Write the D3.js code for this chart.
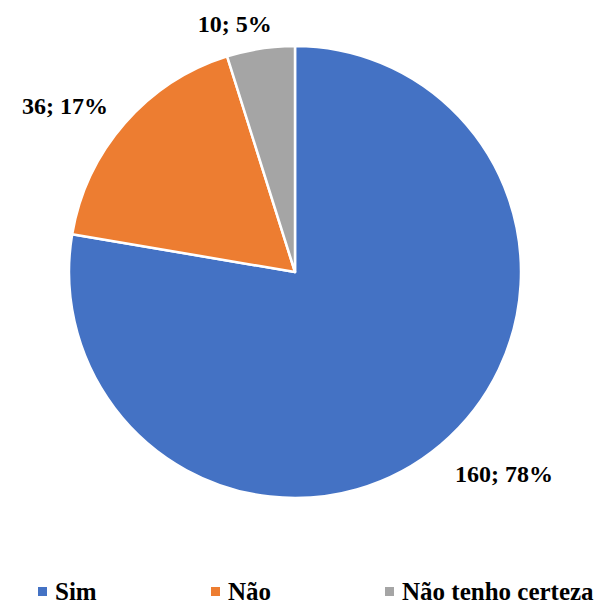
<!DOCTYPE html>
<html><head><meta charset="utf-8">
<script src="https://cdn.jsdelivr.net/npm/d3@7"></script>
</head><body style="margin:0">
<svg id="c" width="598" height="605" style="display:block;background:#fff"></svg>
<script>
const categories = ["Sim", "Não", "Não tenho certeza"];
const values = [160, 36, 10];
const percents = ["78%", "17%", "5%"];
const colors = ["#4472C4", "#ED7D31", "#A5A5A5"];

const cx = 295, cy = 272, r = 226;
const FONT = "Liberation Serif";
const svg = d3.select("#c");
const data = categories.map((c, i) => ({c, v: values[i], p: percents[i], col: colors[i]}));
const pie = d3.pie().value(d => d.v).sort(null);
const arcs = pie(data);
const arc = d3.arc().innerRadius(0).outerRadius(r);
const g = svg.append("g").attr("transform", `translate(${cx},${cy})`);
g.selectAll("path").data(arcs).join("path")
  .attr("d", arc).attr("fill", d => d.data.col)
  .attr("stroke", "#fff").attr("stroke-width", 2.5).attr("stroke-linejoin", "round");

const lx = [38, 211, 385];
const leg = svg.append("g");
data.forEach((d, i) => {
  leg.append("rect").attr("x", lx[i]).attr("y", 587).attr("width", 9).attr("height", 9).attr("fill", d.col);
  leg.append("text").attr("x", lx[i] + 17).attr("y", 600).text(d.c)
    .attr("font-family", FONT).attr("font-weight", "bold")
    .attr("font-size", 25).attr("fill", "#000");
});

const labels = arcs.map(a => g.append("text").text(`${a.data.v}; ${a.data.p}`)
    .attr("font-family", FONT).attr("font-weight", "bold")
    .attr("font-size", 24).attr("fill", "#000"));

function place() {
  arcs.forEach((a, i) => {
    const t = labels[i];
    const m = (a.startAngle + a.endAngle) / 2;
    const R = r + 22;
    const s = Math.sin(m), c = Math.cos(m);
    const px = R * s, py = -R * c;
    const w = t.node().getComputedTextLength();
    let x = s < 0 ? px - w : px;
    if (Math.abs(s) < 0.25) x = px - w * (0.5 - 2 * s);
    const base = c > 0 ? py + 5 : py + 21;
    t.attr("x", x).attr("y", base);
  });
}
place();
if (document.fonts && document.fonts.ready) document.fonts.ready.then(place);
</script>
</body></html>
